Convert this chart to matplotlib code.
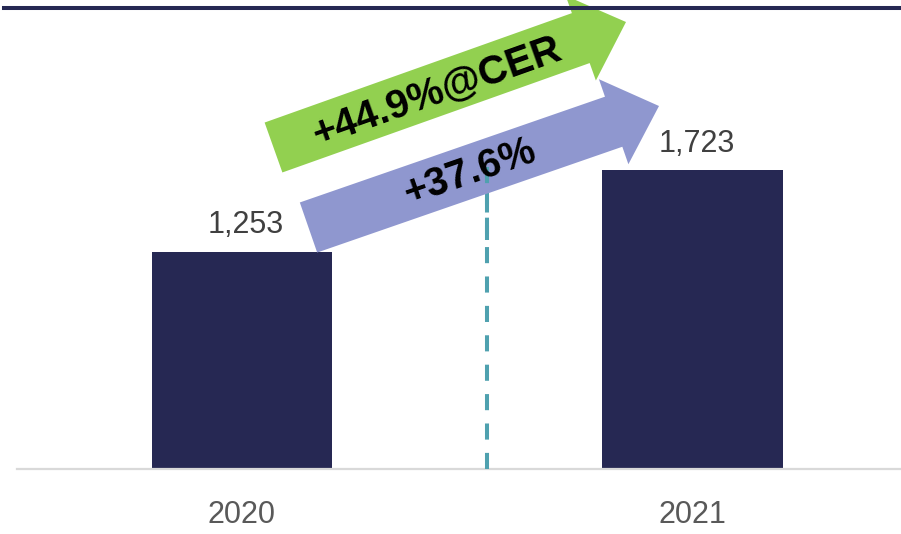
import matplotlib
matplotlib.use("Agg")
import matplotlib.pyplot as plt
from matplotlib.patches import FancyArrow
from matplotlib.lines import Line2D
import numpy as np

plt.rcParams['font.family'] = ['Liberation Sans', 'DejaVu Sans']

# --- data -------------------------------------------------------------
years = ["2020", "2021"]
values = [1253, 1723]
value_labels = ["1,253", "1,723"]
growth_reported = "+37.6%"
growth_cer = "+44.9%@CER"

# --- styling ------------------------------------------------------------
BAR_COLOR = "#262853"
GREEN = "#92D050"
PURPLE = "#8F97CF"
TEAL = "#4FA1AF"
LABEL_GRAY = "#404040"
TICK_GRAY = "#595959"

W, H = 901, 534
fig = plt.figure(figsize=(W / 100, H / 100), dpi=100)

# main bar axes
left_px, right_px, bottom_px, top_px = 17, 901, 469, 9
ax = fig.add_axes([left_px / W, (H - bottom_px) / H,
                   (right_px - left_px) / W, (bottom_px - top_px) / H])
x = np.arange(len(years))
ax.bar(x, values, width=0.4, color=BAR_COLOR, zorder=2)
ax.set_xlim(-0.4985, 1.4625)
ax.set_ylim(0, 2653)

for xi, v, lab in zip(x, values, value_labels):
    ax.annotate(lab, (xi, v), xytext=(3, 13.5), textcoords="offset points",
                ha="center", va="baseline", fontsize=22, color=LABEL_GRAY)

ax.set_xticks(x)
ax.set_xticklabels(years, fontsize=22, color=TICK_GRAY)
ax.tick_params(axis="x", length=0, pad=22)
ax.set_yticks([])
for s in ("left", "right", "top"):
    ax.spines[s].set_visible(False)
ax.spines["bottom"].set_color("#D9D9D9")
ax.spines["bottom"].set_linewidth(1.6)

# dashed divider between the two years
ax.vlines(0.544, 0, 1745, colors=TEAL, linewidth=2.9,
          linestyles=(0, (4, 3.3)), zorder=4)

# overlay in pixel space for the growth arrows
ov = fig.add_axes([0, 0, 1, 1], facecolor="none")
ov.set_xlim(0, W)
ov.set_ylim(H, 0)
ov.axis("off")
ov.set_zorder(ax.get_zorder() + 1)

def growth_arrow(tail, tip, color, z):
    dx, dy = tip[0] - tail[0], tip[1] - tail[1]
    a = FancyArrow(tail[0], tail[1], dx, dy, width=53, head_width=90,
                   head_length=48, length_includes_head=True,
                   color=color, linewidth=0, zorder=z)
    ov.add_patch(a)
    return np.degrees(np.arctan2(-dy, dx))

ang_p = growth_arrow((308.5, 227.5), (659, 106), PURPLE, 1)
ang_g = growth_arrow((273.5, 147.5), (626, 22), GREEN, 1)

ov.text(470, 172, growth_reported, rotation=ang_p, rotation_mode="anchor",
        ha="center", va="center", fontsize=29, fontweight="bold",
        color="black", zorder=6)
ov.text(437, 92, growth_cer, rotation=ang_g, rotation_mode="anchor",
        ha="center", va="center", fontsize=29, fontweight="bold",
        color="black", zorder=6)

# redraw dashed segment over the purple arrow
ov.plot([487, 487], [167, 240], color=TEAL, linewidth=2.9,
        linestyle=(0, (4, 3.3)), zorder=3)

# header rule
fig.add_artist(Line2D([4 / W, 1], [(H - 7.5) / H] * 2, color=BAR_COLOR,
                      linewidth=2.9, zorder=10))

fig.savefig("out.png", dpi=100)
